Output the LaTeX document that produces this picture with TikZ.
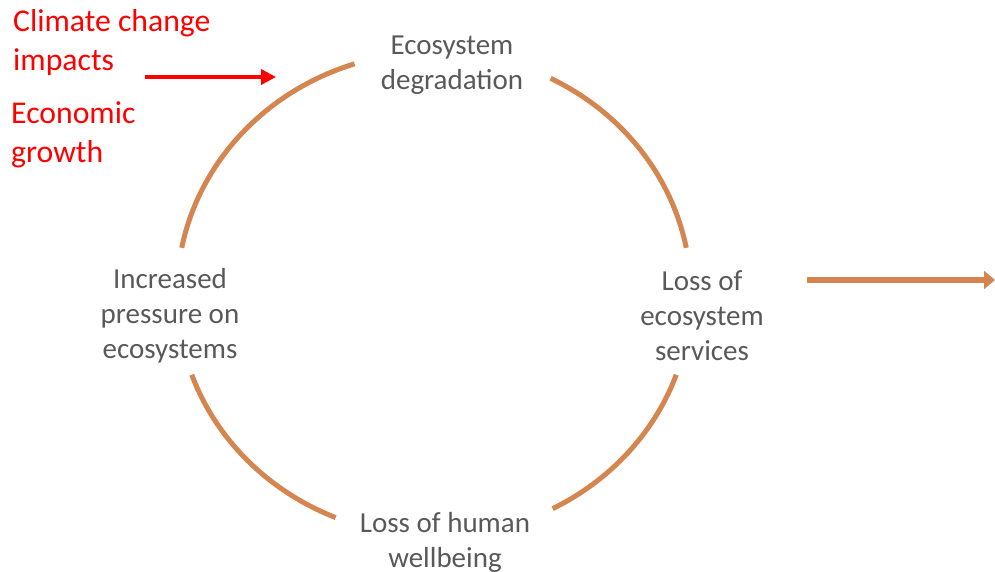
\documentclass[tikz,border=0pt]{standalone}
\usepackage{fontspec}
\setmainfont{Carlito}
\usetikzlibrary{arrows.meta}
\definecolor{orng}{HTML}{D48550}
\definecolor{txtgray}{HTML}{595959}
\definecolor{redtxt}{HTML}{FF0000}
\tikzset{
  stage/.style={align=center,text=txtgray,font=\fontsize{29}{35}\selectfont,inner sep=0pt},
  driver/.style={align=left,text=redtxt,font=\fontsize{31.7}{39.5}\selectfont,inner sep=0pt,anchor=west},
  cyclearc/.style={draw=orng,line width=5pt},
}
\begin{document}
\begin{tikzpicture}[x=1pt,y=1pt]
\useasboundingbox (0,0) rectangle (995,572);
\coordinate (c) at (434,278);
% stages
\node[stage] (deg) at (452,507) {Ecosystem\\degradation};
\node[stage] (press) at (170,256.5) {Increased\\pressure on\\ecosystems};
\node[stage] (serv) at (702,256.5) {Loss of\\ecosystem\\services};
\node[stage] (well) at (445,30) {Loss of human\\wellbeing};
% drivers
\node[driver] (clim) at (13,529.5) {Climate change\\impacts};
\node[driver] (econ) at (11,437) {Economic\\growth};
% cycle arcs (ellipse centre c, radii 257 x 242)
\draw[cyclearc] ([shift={(108:257 and 242)}]c) arc[start angle=108,end angle=169,x radius=257,y radius=242];
\draw[cyclearc] ([shift={(63:257 and 242)}]c) arc[start angle=63,end angle=11,x radius=257,y radius=242];
\draw[cyclearc] ([shift={(-19.5:257 and 242)}]c) arc[start angle=-19.5,end angle=-62.5,x radius=257,y radius=242];
\draw[cyclearc] ([shift={(199.5:257 and 242)}]c) arc[start angle=199.5,end angle=247.5,x radius=257,y radius=242];
% arrows
\coordinate (ra) at (145,495);
\coordinate (rb) at (276,495);
\draw[redtxt,line width=3.8pt,-{Triangle[length=15pt,width=15pt]}] (ra) -- (rb);
\coordinate (oa) at (807,292);
\coordinate (ob) at (995,292);
\draw[orng,line width=6pt,-{Triangle[length=11pt,width=18pt]}] (oa) -- (ob);
\end{tikzpicture}
\end{document}
